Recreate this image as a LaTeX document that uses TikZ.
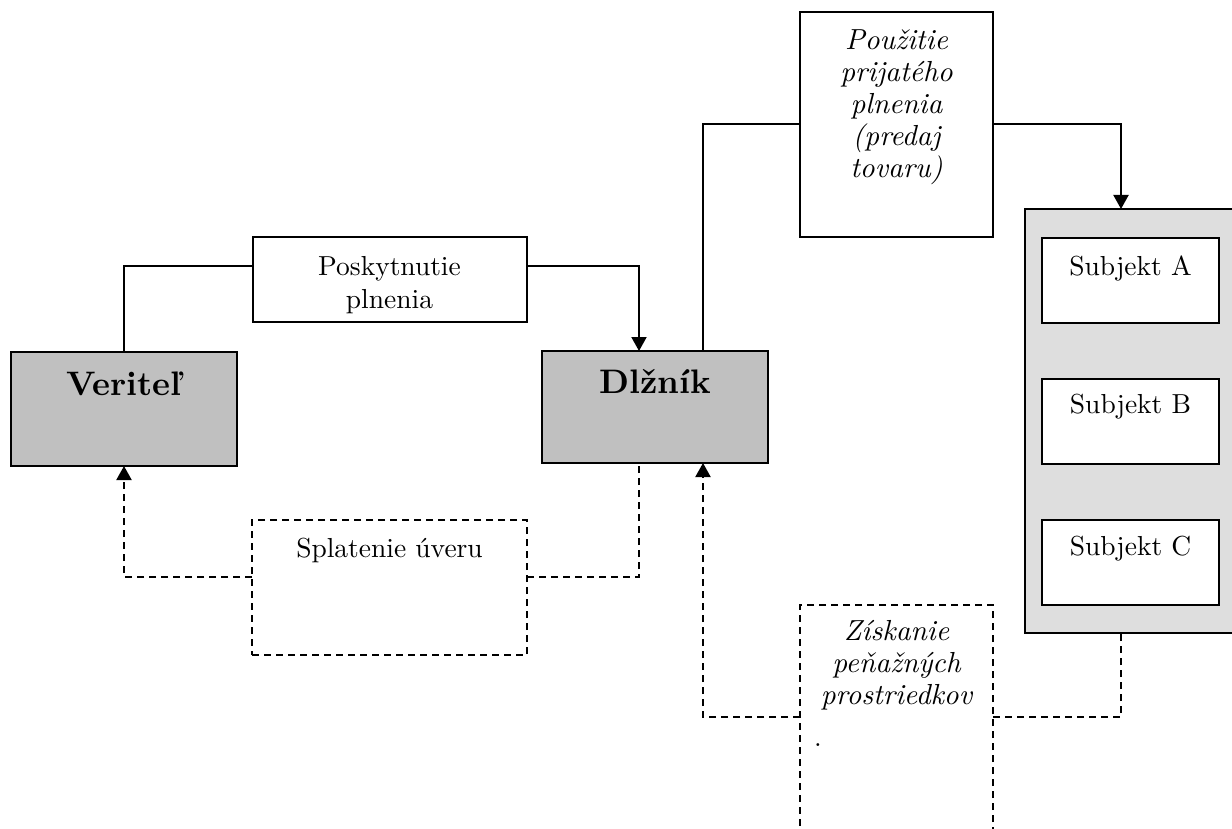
\documentclass[tikz,border=0pt]{standalone}
\usepackage{fontspec}
% keep the 10pt design of Latin Modern at every size
\setmainfont{lmroman10-regular}[Extension=.otf,
  BoldFont=lmroman10-bold, ItalicFont=lmroman10-italic, BoldItalicFont=lmroman10-bolditalic]
\usetikzlibrary{arrows.meta}
\definecolor{partyfill}{HTML}{C0C0C0}
\definecolor{groupfill}{HTML}{DEDEDE}
\begin{document}
\begin{tikzpicture}[x=1pt,y=-1pt,
  box/.style={draw, line width=2pt, rectangle, inner sep=0pt, outer sep=0pt, anchor=center},
  dbox/.style={box, dash pattern=on 7pt off 5pt},
  txt/.style={font=\fontsize{27.5}{33}\selectfont, align=center, inner sep=0pt, anchor=north},
  itxt/.style={font=\fontsize{29}{32}\selectfont\itshape, align=center, inner sep=0pt, anchor=north},
  btxt/.style={font=\fontsize{34}{38}\selectfont\bfseries, align=center, inner sep=0pt, anchor=north},
  link/.style={draw, line width=2pt},
  dlink/.style={link, dash pattern=on 7pt off 5pt},
  tip/.style={-{Triangle[length=14pt,width=15pt]}}]
\useasboundingbox (0,0) rectangle (1232,829);

% parties
\node[box, fill=partyfill, minimum width=226pt, minimum height=114pt] (ver) at (124,409) {};
\node[btxt] (verT) at (124,368.4) {\strut Veriteľ};
\node[box, fill=partyfill, minimum width=226pt, minimum height=112pt] (dlz) at (655,407) {};
\node[btxt] (dlzT) at (655,366.4) {\strut Dlžník};

% performance boxes
\node[box, minimum width=274pt, minimum height=85pt] (posk) at (389.5,279.5) {};
\node[txt] (poskT) at (389.5,251.9) {\strut Poskytnutie\\plnenia};
\node[box, minimum width=193pt, minimum height=225pt] (pouz) at (896.5,124.5) {};
\node[itxt] (pouzT) at (896.5,26.6) {\strut Použitie\\prijatého\\plnenia\\(predaj\\tovaru)};

% group of third parties
\node[box, fill=groupfill, minimum width=215pt, minimum height=424pt] (cont) at (1132.5,421) {};
\node[box, fill=white, minimum width=177pt, minimum height=85pt] (subA) at (1130.5,280.5) {};
\node[txt] (subAT) at (1130.5,251.9) {\strut Subjekt A};
\node[box, fill=white, minimum width=177pt, minimum height=85pt] (subB) at (1130.5,421.5) {};
\node[txt] (subBT) at (1130.5,389.9) {\strut Subjekt B};
\node[box, fill=white, minimum width=177pt, minimum height=85pt] (subC) at (1130.5,562.5) {};
\node[txt] (subCT) at (1130.5,531.9) {\strut Subjekt C};

% money flows
\node[dbox, minimum width=275pt, minimum height=135pt] (spl) at (389.5,587.5) {};
\node[txt] (splT) at (389.5,533.9) {\strut Splatenie úveru};
\node[dbox, minimum width=193pt, minimum height=240pt] (zis) at (896.5,725) {};
\node[itxt] (zisT) at (896.5,617.6) {\strut Získanie\\peňažných\\prostriedkov};
\node[font=\fontsize{27.5}{33}\selectfont, inner sep=0pt, anchor=base] (dot) at (818,746) {.};

% bend points
\coordinate (c1) at (124,266);
\coordinate (c2) at (639,266);
\coordinate (c3) at (703,124.5);
\coordinate (c4) at (1121,124.5);
\coordinate (d1) at (124,577);
\coordinate (d2) at (639,577);
\coordinate (d3) at (703,717);
\coordinate (d4) at (1121,717);

% solid connectors
\draw[link] (ver.north) -- (c1) -- (c1 -| posk.west);
\draw[link, tip] (c2 -| posk.east) -- (c2) -- (c2 |- dlz.north);
\draw[link] (c3 |- dlz.north) -- (c3) -- (pouz.west);
\draw[link, tip] (pouz.east) -- (c4) -- (c4 |- cont.north);

% dashed connectors
\draw[dlink, tip] (d1 -| spl.west) -- (d1) -- (ver.south);
\draw[dlink] (d2 -| spl.east) -- (d2) -- (d2 |- dlz.south);
\draw[dlink, tip] (d3 -| zis.west) -- (d3) -- (d3 |- dlz.south);
\draw[dlink] (d4 -| zis.east) -- (d4) -- (d4 |- cont.south);
\end{tikzpicture}
\end{document}
